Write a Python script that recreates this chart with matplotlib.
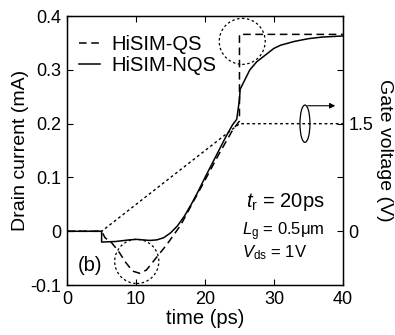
import matplotlib.pyplot as plt
from matplotlib.patches import Ellipse

plt.rcParams['font.family'] = ['Liberation Sans', 'DejaVu Sans']
plt.rcParams['mathtext.fontset'] = 'custom'
plt.rcParams['mathtext.rm'] = 'Liberation Sans'
plt.rcParams['mathtext.it'] = 'Liberation Sans:italic'

# gate voltage ramp (right axis, V)
t_gate = [0, 5, 25, 40]
v_gate = [0, 0, 1.5, 1.5]

# quasi-static drain current (mA)
t_qs = [0, 5, 5.5, 6.5, 7.5, 8.5, 9.5, 10.5, 11.5, 12.5, 13.5, 14.5, 15.5,
        16.5, 18, 20, 22, 24, 25, 25, 40]
i_qs = [0, 0, -0.012, -0.022, -0.038, -0.058, -0.074, -0.078, -0.072,
        -0.056, -0.04, -0.024, -0.006, 0.012, 0.048, 0.095, 0.143, 0.188,
        0.205, 0.366, 0.366]

# non-quasi-static drain current (mA)
t_nqs = [0, 5, 5, 7, 9, 10, 11, 12, 13, 14, 15, 16, 17, 18, 19, 20, 21, 22,
         23, 24, 24.6, 25, 25.1, 26.5, 27.5, 28.5, 30, 31, 33, 35, 37, 40]
i_nqs = [0, 0, -0.02, -0.019, -0.016, -0.015, -0.016, -0.017, -0.016,
         -0.012, -0.003, 0.01, 0.028, 0.05, 0.074, 0.1, 0.125, 0.15, 0.175,
         0.198, 0.208, 0.245, 0.264, 0.30, 0.315, 0.325, 0.34, 0.346, 0.353,
         0.358, 0.361, 0.363]

fig = plt.figure(figsize=(3.95, 3.35), dpi=100)
ax = fig.add_axes([0.170, 0.149, 0.698, 0.803])
ax2 = ax.twinx()

ax.plot(t_qs, i_qs, color='black', lw=1.1, ls=(0, (5, 3)), label='HiSIM-QS')
ax.plot(t_nqs, i_nqs, color='black', lw=1.1, label='HiSIM-NQS')
ax2.plot(t_gate, v_gate, color='black', lw=1.0, ls=(0, (2, 2)))

ax.set_xlim(0, 40)
ax.set_ylim(-0.1, 0.4)
ax2.set_ylim(-0.75, 3.0)
ax.set_xticks([0, 10, 20, 30, 40])
ax.set_yticks([-0.1, 0, 0.1, 0.2, 0.3, 0.4])
ax.set_yticklabels(['-0.1', '0', '0.1', '0.2', '0.3', '0.4'])
ax2.set_yticks([0, 0.75, 1.5, 2.25])
ax2.set_yticklabels(['0', '', '1.5', ''])

ax.tick_params(direction='in', length=4, width=0.8, labelsize=13,
               top=True, pad=4)
ax2.tick_params(direction='in', length=4, width=0.8, labelsize=13, pad=4)
for s in ax.spines.values():
    s.set_linewidth(1.0)

ax.set_xlabel('time (ps)', fontsize=14.5, labelpad=1)
ax.set_ylabel('Drain current (mA)', fontsize=14, labelpad=1)
ax2.set_ylabel('Gate voltage (V)', fontsize=14, rotation=270, labelpad=14)

ax.legend(loc='upper left', bbox_to_anchor=(0.0, 0.975), frameon=False,
          fontsize=14.5, handlelength=1.05, handletextpad=0.55,
          labelspacing=0.1, borderaxespad=0.2)

ax.text(3.3, -0.063, '(b)', fontsize=14.5, ha='center', va='center')
ax.text(37.4, 0.0446, r'$t_\mathrm{r}$ = 20ps', fontsize=14.5,
        ha='right', va='baseline')
ax.text(37.4, -0.0074, r'$L_\mathrm{g}$ = 0.5μm', fontsize=12,
        ha='right', va='baseline')
ax.text(25.3, -0.048, r'$V_\mathrm{ds}$ = 1V', fontsize=12, va='baseline')

# dotted circles highlighting the transitions
ax.add_patch(Ellipse((25.4, 0.353), 6.67, 0.0855, fill=False, ls=(0, (2, 2)),
                     lw=0.9, clip_on=False))
ax.add_patch(Ellipse((10.1, -0.056), 6.4, 0.082, fill=False, ls=(0, (2, 2)),
                     lw=0.9, clip_on=False))

# ellipse + arrow pointing to the right axis
ax2.add_patch(Ellipse((34.5, 1.5), 1.45, 0.52, fill=False, lw=0.9))
ax2.annotate('', xy=(39.3, 1.75), xytext=(34.5, 1.75),
             arrowprops=dict(arrowstyle='-|>', lw=0.8, color='black',
                             mutation_scale=8))

fig.savefig('out.png', dpi=100)
